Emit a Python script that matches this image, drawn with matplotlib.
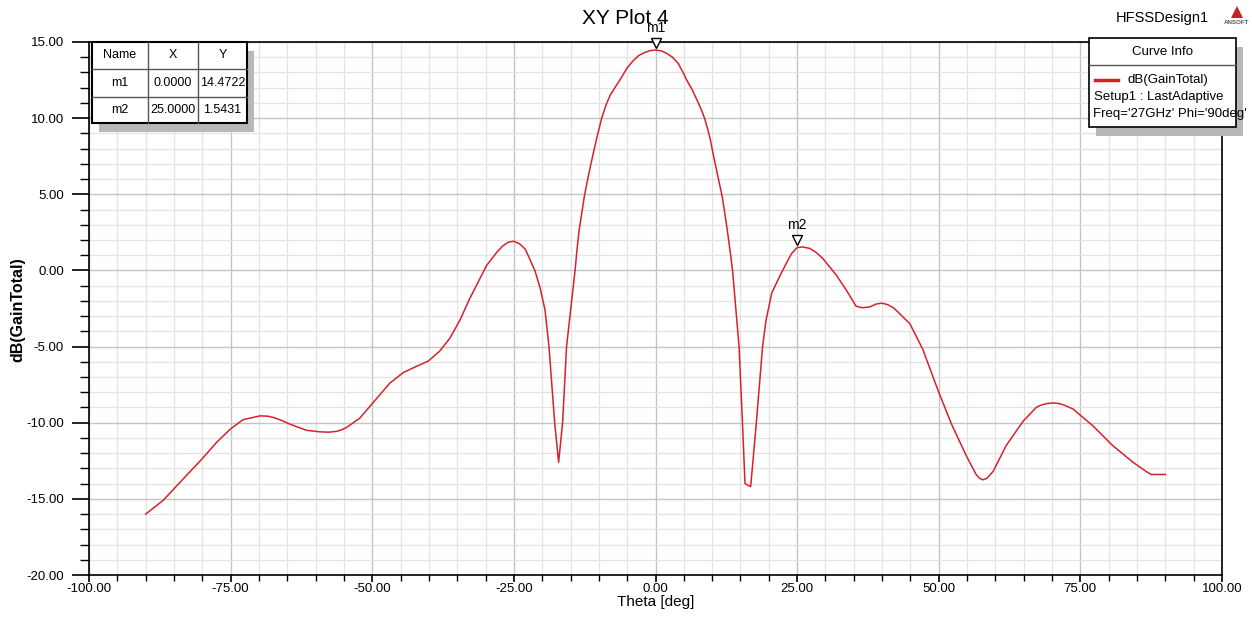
import matplotlib
matplotlib.use('Agg')
import matplotlib.pyplot as plt
from matplotlib.patches import Rectangle, Polygon
from matplotlib.lines import Line2D
from matplotlib.ticker import MultipleLocator, FormatStrFormatter
from matplotlib.transforms import offset_copy

plt.rcParams['font.family'] = ['Liberation Sans', 'DejaVu Sans']

# ---- data ----
theta = [-90, -86.9, -83.9, -80.1, -77.5, -75, -72.8, -71, -69.8, -68.5,
         -67.5, -66, -64.5, -61.6, -59.2, -57.7, -56.3, -55.3, -54.5, -52.2,
         -49.2, -46.9, -44.5, -42.2, -40.1, -38.1, -36.3, -34.5, -32.8, -31,
         -29.8, -28, -27, -26, -25, -24, -23, -22.5, -21.3, -20.4,
         -19.5, -18.8, -17.8, -17.1, -16.4, -15.7, -14.2, -13.9, -13.5, -13.0,
         -12.5, -11.8, -11.1, -10.3, -9.5, -8.7, -8, -7, -6.3, -5,
         -4, -3, -2, -1, 0, 1, 2, 3, 4, 5,
         5.5, 6.5, 7.5, 8.2, 8.7, 9.2, 9.7, 10.2, 11, 11.8,
         12.3, 12.8, 13.3, 13.6, 14.75, 15.35, 15.8, 16.8, 17.8, 18.9,
         19.5, 20.5, 21.9, 23, 24, 25, 26, 27.2, 28.3, 29.5,
         31.9, 33.7, 35.4, 36.5, 37.8, 39, 40, 41, 42, 43,
         44.9, 46, 47.2, 49.9, 52.2, 54.9, 56.6, 57.2, 57.8, 58.5,
         59.6, 61.9, 64.9, 67.2, 68, 69, 70.2, 71.4, 72.5, 73.7,
         77.2, 80.7, 84.3, 86.6, 87.5, 90]
gain = [-16.0, -15.1, -13.9, -12.4, -11.3, -10.4, -9.8, -9.65, -9.55, -9.57,
        -9.65, -9.85, -10.1, -10.5, -10.6, -10.62, -10.57, -10.45, -10.3, -9.7,
        -8.4, -7.4, -6.7, -6.3, -5.95, -5.3, -4.45, -3.25, -1.85, -0.55,
        0.33, 1.2, 1.6, 1.85, 1.92, 1.75, 1.4, 1.0, 0.0, -1.1,
        -2.6, -5.0, -10.0, -12.6, -10.0, -5.0, 0.0, 1.2, 2.6, 3.8,
        5.0, 6.3, 7.5, 8.8, 10.0, 10.9, 11.5, 12.1, 12.5, 13.3,
        13.75, 14.1, 14.3, 14.43, 14.47, 14.42, 14.25, 14.0, 13.6, 12.9,
        12.5, 11.85, 11.05, 10.45, 9.95, 9.3, 8.55, 7.6, 6.2, 4.8,
        3.6, 2.3, 0.9, 0.0, -5.0, -10.0, -14.0, -14.2, -10.0, -5.0,
        -3.3, -1.5, -0.4, 0.4, 1.1, 1.5, 1.54, 1.45, 1.2, 0.8,
        -0.3, -1.3, -2.35, -2.45, -2.4, -2.2, -2.15, -2.25, -2.45, -2.8,
        -3.5, -4.3, -5.2, -7.9, -10.05, -12.2, -13.4, -13.65, -13.75, -13.65,
        -13.2, -11.5, -9.9, -9.0, -8.85, -8.75, -8.7, -8.75, -8.9, -9.1,
        -10.2, -11.5, -12.6, -13.2, -13.4, -13.4]

marker_names = ['m1', 'm2']
marker_x = [0.0, 25.0]
marker_y = [14.4722, 1.5431]

curve_name = 'dB(GainTotal)'
curve_info = ['Setup1 : LastAdaptive', "Freq='27GHz' Phi='90deg'"]

W, H = 1252, 624
fig = plt.figure(figsize=(W / 100, H / 100), dpi=100)
fig.patch.set_facecolor('white')


def fx(x):
    return x / W


def fy(y):
    return 1 - y / H


def box(x0, y0, x1, y1, **kw):
    r = Rectangle((fx(x0), fy(y1)), fx(x1) - fx(x0), fy(y0) - fy(y1),
                  transform=fig.transFigure, **kw)
    fig.add_artist(r)
    return r


ax = fig.add_axes([fx(89), fy(575), fx(1222) - fx(89), fy(42) - fy(575)])
ax.plot(theta, gain, color='#d9202c', lw=1.1, zorder=3)
ax.set_xlim(-100, 100)
ax.set_ylim(-20, 15)

ax.xaxis.set_major_locator(MultipleLocator(25))
ax.xaxis.set_minor_locator(MultipleLocator(5))
ax.yaxis.set_major_locator(MultipleLocator(5))
ax.yaxis.set_minor_locator(MultipleLocator(1))
ax.xaxis.set_major_formatter(FormatStrFormatter('%.2f'))
ax.yaxis.set_major_formatter(FormatStrFormatter('%.2f'))
ax.grid(which='major', color='#c4c4c4', lw=1.0)
ax.grid(which='minor', color='#e3e3e3', lw=0.9)
ax.set_axisbelow(True)
ax.tick_params(axis='y', which='major', length=12, width=1.2, pad=6, labelsize=9.5)
ax.tick_params(axis='y', which='minor', length=6.5, width=1.0)
ax.tick_params(axis='x', which='major', length=5, width=1.2, pad=1, labelsize=9.5)
ax.tick_params(axis='x', which='minor', length=4, width=1.0)
for s in ax.spines.values():
    s.set_color('black')
    s.set_linewidth(1.2)

ax.set_xlabel('Theta [deg]', fontsize=11, labelpad=0)
fig.text(fx(18), fy(310), 'dB(GainTotal)', rotation=90, ha='center', va='center',
         fontsize=11.5, fontweight='bold')

# marker triangles and labels
tri = offset_copy(ax.transData, fig=fig, x=0, y=7, units='dots')
lab = offset_copy(ax.transData, fig=fig, x=0, y=15, units='dots')
for name, mx, my in zip(marker_names, marker_x, marker_y):
    ax.plot(mx, my, marker='v', ms=7, mfc='white', mec='black', mew=1.0,
            transform=tri, clip_on=False, zorder=5)
    ax.text(mx, my, name, transform=lab, ha='center', va='bottom',
            fontsize=10, clip_on=False, zorder=5)

# title and design name
fig.text(fx(625), fy(18), 'XY Plot 4', ha='center', va='center', fontsize=15)
fig.text(fx(1162), fy(18), 'HFSSDesign1', ha='center', va='center', fontsize=10.5)
fig.add_artist(Polygon([[fx(1231), fy(18)], [fx(1237), fy(6)], [fx(1243), fy(18)]],
                       closed=True, fc='#c8202a', ec='none', transform=fig.transFigure))
fig.text(fx(1237), fy(23), 'ANSOFT', ha='center', va='center', fontsize=4.5,
         fontweight='bold', color='#555555')

# marker table
box(99, 51, 254, 132, fc='#b8b8b8', ec='none', zorder=10)
box(92, 42, 247, 123, fc='white', ec='black', lw=1.5, zorder=11)
col_edges = [92, 148, 198, 247]
row_edges = [42, 69, 97, 123]
for c in col_edges[1:-1]:
    fig.add_artist(Line2D([fx(c), fx(c)], [fy(42), fy(123)], color='#555555',
                          lw=1.0, transform=fig.transFigure, zorder=12))
for r in row_edges[1:-1]:
    fig.add_artist(Line2D([fx(92), fx(247)], [fy(r), fy(r)], color='#555555',
                          lw=1.0, transform=fig.transFigure, zorder=12))
rows = [['Name', 'X', 'Y']]
for name, mx, my in zip(marker_names, marker_x, marker_y):
    rows.append([name, f'{mx:.4f}', f'{my:.4f}'])
for i, row in enumerate(rows):
    yc = (row_edges[i] + row_edges[i + 1]) / 2
    for j, cell in enumerate(row):
        xc = (col_edges[j] + col_edges[j + 1]) / 2
        fig.text(fx(xc), fy(yc), cell, ha='center', va='center', fontsize=9, zorder=13)

# curve info legend
box(1096, 47, 1243, 136, fc='#b8b8b8', ec='none', zorder=10)
box(1089, 38, 1236, 127, fc='white', ec='black', lw=1.2, zorder=11)
fig.add_artist(Line2D([fx(1089), fx(1236)], [fy(65), fy(65)], color='#555555',
                      lw=1.0, transform=fig.transFigure, zorder=12))
fig.text(fx(1162), fy(52), 'Curve Info', ha='center', va='center', fontsize=9.5, zorder=13)
fig.add_artist(Line2D([fx(1095), fx(1118)], [fy(80), fy(80)], color='#d9202c',
                      lw=2.5, transform=fig.transFigure, zorder=12))
fig.text(fx(1128), fy(80), curve_name, ha='left', va='center', fontsize=9.5, zorder=13)
fig.text(fx(1094), fy(97), curve_info[0], ha='left', va='center', fontsize=9.5, zorder=13)
fig.text(fx(1093), fy(114), curve_info[1], ha='left', va='center', fontsize=9.5, zorder=13)

fig.savefig('out.png', dpi=100)
